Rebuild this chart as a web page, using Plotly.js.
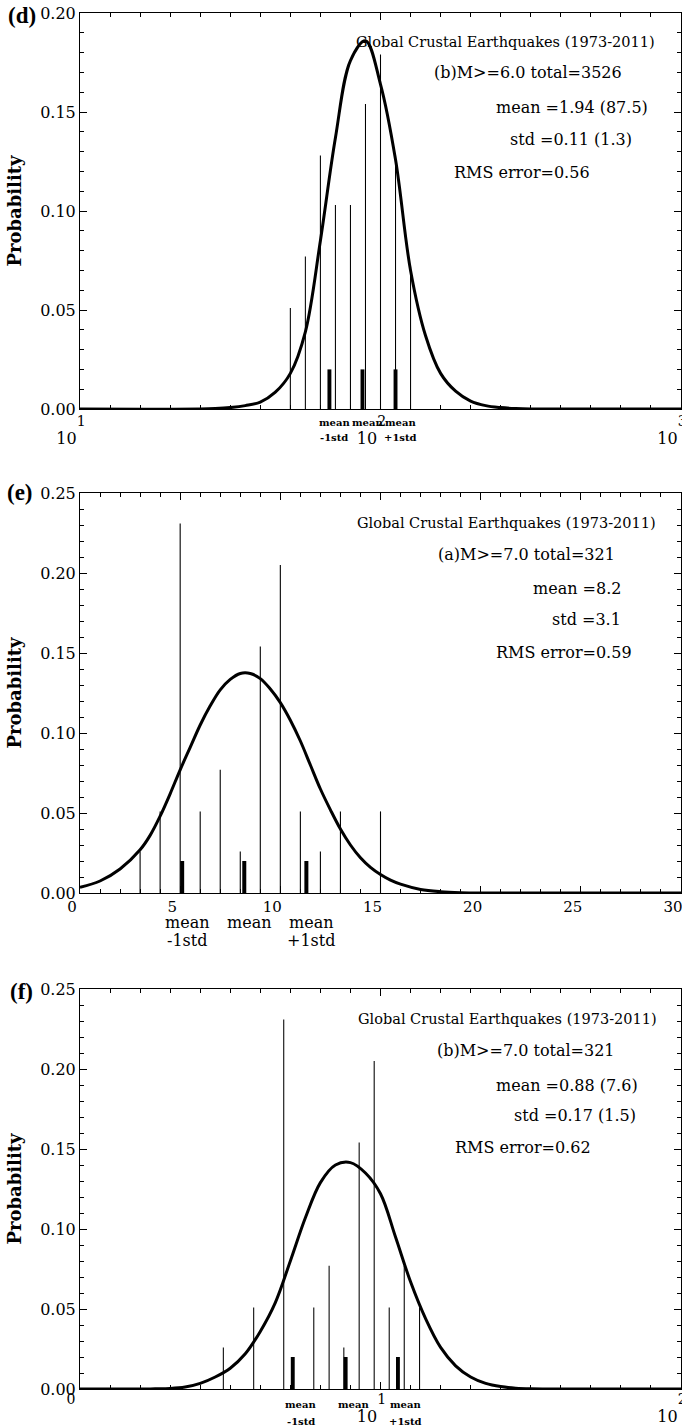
<!DOCTYPE html>
<html><head><meta charset="utf-8">
<script src="https://cdn.plot.ly/plotly-3.0.1.min.js"></script>
<style>html,body{margin:0;padding:0;background:#fff}#chart{width:682px;height:1428px}</style>
</head><body><div id="chart"></div>
<script>
// ---------- Panel (d): log10(annual count), M>=6.0 ----------
const dBarX = [1.70, 1.75, 1.80, 1.85, 1.90, 1.95, 2.00, 2.05, 2.10];
const dBarY = [0.051, 0.077, 0.128, 0.103, 0.103, 0.154, 0.179, 0.128, 0.072];
const dMarkX = [1.83, 1.94, 2.05];
const dMarkY = [0.02, 0.02, 0.02];
const dCurveX = [1.00, 1.40, 1.45, 1.50, 1.55, 1.60, 1.65, 1.70, 1.75, 1.80, 1.85, 1.90, 1.95, 2.00, 2.05, 2.10, 2.15, 2.20, 2.25, 2.30, 2.35, 2.40, 2.45, 2.50, 3.00];
const dCurveY = [0, 0, 0.0002, 0.0007, 0.0017, 0.0035, 0.0085, 0.018, 0.039, 0.085, 0.137, 0.176, 0.186, 0.164, 0.126, 0.070, 0.037, 0.018, 0.009, 0.004, 0.0017, 0.0007, 0.0002, 0, 0];
const dTickVals = [1, 2, 3];
const dTickBase = ['10', '10', '10'];
const dTickExp = ['1', '2', '3'];
const dInfo = ['Global Crustal Earthquakes (1973-2011)', '(b)M>=6.0 total=3526', 'mean =1.94 (87.5)', 'std =0.11 (1.3)', 'RMS error=0.56'];

// ---------- Panel (e): annual count, M>=7.0 ----------
const eBarX = [3, 4, 5, 6, 7, 8, 9, 10, 11, 12, 13, 15];
const eBarY = [0.026, 0.051, 0.231, 0.051, 0.077, 0.026, 0.154, 0.205, 0.051, 0.026, 0.051, 0.051];
const eMarkX = [5.1, 8.2, 11.3];
const eMarkY = [0.02, 0.02, 0.02];
const eCurveX = [0, 1, 2, 3, 3.5, 4, 4.5, 5, 5.5, 6, 6.5, 7, 7.5, 8, 8.5, 9, 9.5, 10, 10.5, 11, 11.5, 12, 12.5, 13, 13.5, 14, 14.5, 15, 15.5, 16, 17, 18, 19, 20, 30];
const eCurveY = [0.0035, 0.0075, 0.015, 0.027, 0.036, 0.048, 0.062, 0.077, 0.091, 0.105, 0.117, 0.127, 0.1335, 0.1372, 0.1372, 0.134, 0.1275, 0.119, 0.108, 0.095, 0.080, 0.065, 0.052, 0.040, 0.030, 0.022, 0.016, 0.0115, 0.008, 0.0055, 0.0022, 0.0008, 0.0002, 0, 0];
const eInfo = ['Global Crustal Earthquakes (1973-2011)', '(a)M>=7.0 total=321', 'mean =8.2', 'std =3.1', 'RMS error=0.59'];

// ---------- Panel (f): log10(annual count), M>=7.0 ----------
const fBarX = [0.477, 0.578, 0.678, 0.778, 0.829, 0.878, 0.929, 0.979, 1.029, 1.079, 1.130];
const fBarY = [0.026, 0.051, 0.231, 0.051, 0.077, 0.026, 0.154, 0.205, 0.051, 0.077, 0.051];
const fMarkX = [0.708, 0.884, 1.058];
const fMarkY = [0.02, 0.02, 0.02];
const fCurveX = [0, 0.20, 0.25, 0.30, 0.35, 0.40, 0.45, 0.50, 0.55, 0.60, 0.65, 0.70, 0.75, 0.80, 0.85, 0.90, 0.95, 1.00, 1.05, 1.10, 1.15, 1.20, 1.25, 1.30, 1.35, 1.40, 1.45, 1.50, 1.55, 2.00];
const fCurveY = [0, 0, 0.0001, 0.0003, 0.0012, 0.0035, 0.0075, 0.013, 0.022, 0.036, 0.054, 0.080, 0.107, 0.129, 0.140, 0.1415, 0.135, 0.122, 0.095, 0.067, 0.044, 0.026, 0.0145, 0.0075, 0.0035, 0.0015, 0.0005, 0.0001, 0, 0];
const fTickVals = [0, 1, 2];
const fTickBase = ['', '10', '10'];
const fTickExp = ['0', '1', '2'];
const fInfo = ['Global Crustal Earthquakes (1973-2011)', '(b)M>=7.0 total=321', 'mean =0.88 (7.6)', 'std =0.17 (1.5)', 'RMS error=0.62'];

const markLine1 = ['mean', 'mean', 'mean'];
const markLine2 = ['-1std', '', '+1std'];
const panelTags = ['(d)', '(e)', '(f)'];

// ---------- layout geometry (pixels) ----------
const W = 682, H = 1428, ML = 80, MR = 1, MT = 13, MB = 39;
const PW = W - ML - MR, PH = H - MT - MB;
const pX = px => (px - ML) / PW;
const pY = py => 1 - (py - MT) / PH;
const dom = (top, bot) => [pY(bot), pY(top)];

const SERIF = 'DejaVu Serif';
const BLACK = '#000';
const EXP_STYLE = 'font-size:14px;baseline-shift:11px';
const powLabel = (base, e) => base + '<sup><span style="' + EXP_STYLE + '">' + e + '</span></sup>';

function barTrace(x, y, w, xa, ya) {
  return {type: 'bar', x: x, y: y, width: x.map(() => w), xaxis: xa, yaxis: ya,
    marker: {color: BLACK, line: {width: 0}}, hoverinfo: 'skip', showlegend: false};
}
function curveTrace(x, y, xa, ya) {
  return {type: 'scatter', mode: 'lines', x: x, y: y, xaxis: xa, yaxis: ya,
    line: {color: BLACK, width: 3, shape: 'spline', smoothing: 1}, hoverinfo: 'skip', showlegend: false};
}

const data = [
  barTrace(dBarX, dBarY, 0.0035, 'x', 'y'),
  barTrace(dMarkX, dMarkY, 0.013, 'x', 'y'),
  curveTrace(dCurveX, dCurveY, 'x', 'y'),
  barTrace(eBarX, eBarY, 0.055, 'x2', 'y2'),
  barTrace(eMarkX, eMarkY, 0.2, 'x2', 'y2'),
  curveTrace(eCurveX, eCurveY, 'x2', 'y2'),
  barTrace(fBarX, fBarY, 0.0035, 'x3', 'y3'),
  barTrace(fMarkX, fMarkY, 0.013, 'x3', 'y3'),
  curveTrace(fCurveX, fCurveY, 'x3', 'y3')
];

function baseAxis() {
  return {showline: true, linecolor: BLACK, linewidth: 1, mirror: 'ticks', ticks: 'inside',
    ticklen: 7, tickwidth: 1, tickcolor: BLACK, showgrid: false, zeroline: false, fixedrange: true,
    ticklabeloverflow: 'allow', tickfont: {family: SERIF, size: 15, color: BLACK}};
}
function yAxis(domain, top, anchor) {
  return Object.assign(baseAxis(), {domain: domain, range: [0, top], anchor: anchor,
    tick0: 0, dtick: 0.05, tickformat: '.2f', tickfont: {family: SERIF, size: 16, color: BLACK},
    minor: {ticks: 'inside', ticklen: 4, tickcolor: BLACK, tickwidth: 1, dtick: 0.01, tick0: 0, showgrid: false},
    title: {text: 'Probability', font: {family: SERIF, size: 18, color: BLACK, weight: 'bold'}, standoff: 13}});
}
function xLogAxis(range, vals, texts, anchor, standoff) {
  return Object.assign(baseAxis(), {range: range, anchor: anchor, tickmode: 'array',
    tickvals: vals, ticktext: texts, ticklabelshift: -9, ticklabelstandoff: standoff,
    tickfont: {family: SERIF, size: 16, color: BLACK},
    minor: {ticks: 'inside', ticklen: 4, tickcolor: BLACK, tickwidth: 1, tickmode: 'linear', tick0: 0, dtick: 0.1, showgrid: false}});
}

const layout = {
  width: W, height: H, margin: {l: ML, r: MR, t: MT, b: MB},
  paper_bgcolor: '#fff', plot_bgcolor: '#fff', barmode: 'overlay', showlegend: false,
  font: {family: SERIF, color: BLACK},
  xaxis: xLogAxis([1, 3], dTickVals, dTickExp.map((e, i) => powLabel(dTickBase[i], e)), 'y', 15),
  yaxis: yAxis(dom(13, 409), 0.20, 'x'),
  xaxis2: Object.assign(baseAxis(), {range: [0, 30], anchor: 'y2', tick0: 0, dtick: 5, ticklabelshift: -8,
    minor: {ticks: 'inside', ticklen: 4, tickcolor: BLACK, tickwidth: 1, dtick: 1, tick0: 0, showgrid: false}}),
  yaxis2: yAxis(dom(493, 893), 0.25, 'x2'),
  xaxis3: xLogAxis([0, 2], fTickVals, fTickExp.map((e, i) => powLabel(fTickBase[i], e)), 'y3', 13),
  yaxis3: yAxis(dom(989, 1389), 0.25, 'x3'),
  annotations: []
};

// info text blocks (pixel centres)
const infoPos = [
  [[505, 42], [528, 73], [572, 107], [571, 139], [522, 172]],
  [[506, 523], [526, 554], [577, 588], [586, 619], [564, 652]],
  [[507, 1019], [526, 1050], [567, 1085], [575, 1115], [523, 1147]]
];
[dInfo, eInfo, fInfo].forEach((lines, p) => {
  lines.forEach((t, i) => {
    layout.annotations.push({text: t, xref: 'paper', yref: 'paper', x: pX(infoPos[p][i][0]), y: pY(infoPos[p][i][1]),
      xanchor: 'center', yanchor: 'middle', showarrow: false,
      font: {family: SERIF, size: i === 0 ? 14.5 : 16, color: BLACK}});
  });
});

// panel tags
const tagPos = [[22, 15], [20, 492], [21, 991]];
panelTags.forEach((t, i) => {
  layout.annotations.push({text: t, xref: 'paper', yref: 'paper', x: pX(tagPos[i][0]), y: pY(tagPos[i][1]),
    xanchor: 'center', yanchor: 'middle', showarrow: false,
    font: {family: 'Liberation Serif', size: 23, color: BLACK, weight: 'bold'}});
});

// mean / mean±std labels under the axes
const markCfg = [
  {xs: dMarkX, xref: 'x', y1: 423, y2: 438, shift: 5, size: 10, bold: true},
  {xs: eMarkX, xref: 'x2', y1: 923, y2: 940, shift: 5, size: 16, bold: false},
  {xs: fMarkX, xref: 'x3', y1: 1404, y2: 1421, shift: 8, size: 10, bold: true}
];
markCfg.forEach(c => {
  c.xs.forEach((xv, i) => {
    [[markLine1[i], c.y1], [markLine2[i], c.y2]].forEach(([t, yy]) => {
      if (!t) return;
      layout.annotations.push({text: t, xref: c.xref, yref: 'paper', x: xv, y: pY(yy), xshift: c.shift,
        xanchor: 'center', yanchor: 'middle', showarrow: false,
        font: {family: SERIF, size: c.size, color: BLACK, weight: c.bold ? 'bold' : 'normal'}});
    });
  });
});

Plotly.newPlot('chart', data, layout, {staticPlot: true, displayModeBar: false});
</script>
</body></html>
